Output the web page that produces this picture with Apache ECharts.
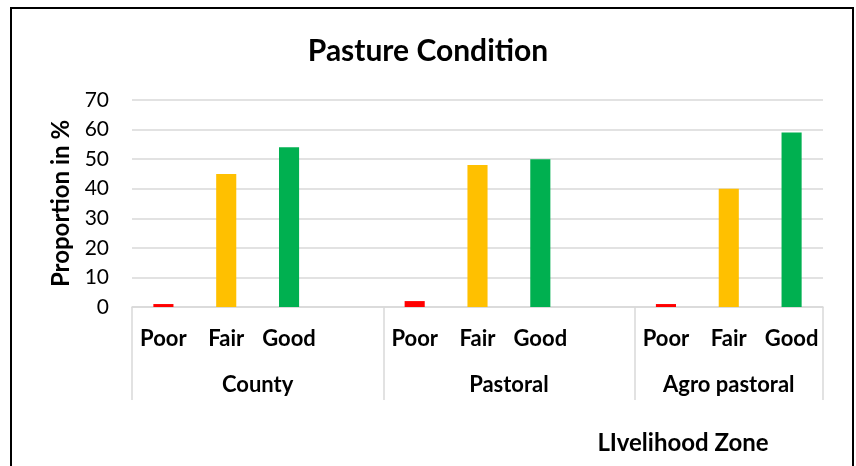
<!DOCTYPE html>
<html>
<head>
<meta charset="utf-8">
<script src="https://cdn.jsdelivr.net/npm/echarts@6/dist/echarts.min.js"></script>
<style>
  html, body { margin: 0; padding: 0; background: #fff; overflow: hidden; }
  #chart { width: 856px; height: 466px; }
  #frame { position: absolute; left: 10px; top: 7px; width: 840px; height: 500px; border: 2px solid #000; pointer-events: none; }
</style>
</head>
<body>
<div id="chart"></div>
<div id="frame"></div>
<script>
const zones = ['County', 'Pastoral', 'Agro pastoral'];
const conditions = ['Poor', 'Fair', 'Good'];
const countyValues = [1, 45, 54];
const pastoralValues = [2, 48, 50];
const agroPastoralValues = [1, 40, 59];
const conditionColors = ['#FF0000', '#FFC000', '#00B050'];
const yTicks = [0, 10, 20, 30, 40, 50, 60, 70];

const zoneValues = [countyValues, pastoralValues, agroPastoralValues];
const categories = [];
const barData = [];
zones.forEach((z, zi) => {
  conditions.forEach((c, ci) => {
    categories.push(c);
    barData.push({ value: zoneValues[zi][ci], itemStyle: { color: conditionColors[ci] } });
  });
  if (zi < zones.length - 1) { categories.push(''); barData.push(null); }
});
// group centres and separators in category-index units
const groupCenters = [1.5, 5.5, 9];
const groupBounds = [-0.5, 3.5, 7.5, 10.5];

const FONT = 'Lato, "Open Sans", sans-serif';
const chart = echarts.init(document.getElementById('chart'), null, { renderer: 'canvas' });
chart.setOption({
  animation: false,
  title: {
    text: 'Pasture Condition',
    left: 'center',
    top: 31,
    textStyle: { fontFamily: FONT, fontSize: 30, fontWeight: 'bold', color: '#000' }
  },
  grid: { left: 132, right: 33, top: 100, bottom: 159, containLabel: false },
  xAxis: [
    {
      type: 'category',
      data: categories,
      axisLine: { lineStyle: { color: '#D9D9D9', width: 1.5 } },
      axisTick: { show: false },
      axisLabel: { interval: 0, margin: 21, fontFamily: FONT, fontSize: 22, fontWeight: 'bold', color: '#000' }
    },
    {
      type: 'value',
      position: 'bottom',
      min: -0.5,
      max: 10.5,
      interval: 0.5,
      axisLine: { show: false },
      splitLine: { show: false },
      axisTick: { show: true, inside: false, length: 93, customValues: groupBounds, lineStyle: { color: '#D9D9D9', width: 1.5 } },
      axisLabel: {
        customValues: groupCenters,
        margin: 67,
        fontFamily: FONT, fontSize: 22, fontWeight: 'bold', color: '#000',
        formatter: v => zones[groupCenters.indexOf(v)] || ''
      }
    }
  ],
  yAxis: {
    type: 'value',
    min: 0,
    max: 70,
    interval: 10,
    name: 'Proportion in %',
    nameLocation: 'middle',
    nameGap: 56,
    nameTextStyle: { fontFamily: FONT, fontSize: 24, fontWeight: 'bold', color: '#000' },
    axisLine: { show: false },
    axisTick: { show: false },
    splitLine: { lineStyle: { color: '#D9D9D9', width: 1.5 } },
    axisLabel: { margin: 23, fontFamily: FONT, fontSize: 21, color: '#000',
      formatter: v => yTicks.indexOf(v) >= 0 ? String(v) : '' }
  },
  graphic: [{
    type: 'text',
    x: 683,
    y: 443,
    style: { text: 'LIvelihood Zone', align: 'center', verticalAlign: 'middle', font: 'bold 24px ' + FONT, fill: '#000' }
  }],
  series: [{
    type: 'bar',
    xAxisIndex: 0,
    data: barData,
    barWidth: '32%'
  }]
});
</script>
</body>
</html>
